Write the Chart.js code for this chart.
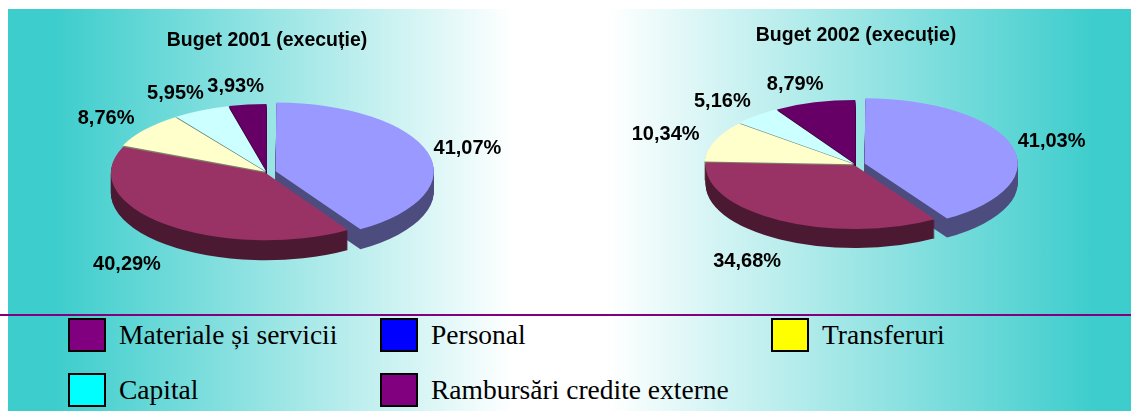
<!DOCTYPE html>
<html>
<head>
<meta charset="utf-8">
<script src="https://cdn.jsdelivr.net/npm/chart.js@4.4.1/dist/chart.umd.min.js"></script>
<style>
  body { margin: 0; width: 1131px; height: 411px; background: #fff; position: relative; overflow: hidden; }
  #bg {
    position: absolute; left: 8px; top: 9px; width: 1123px; height: 402px;
    background: linear-gradient(to right, #3CCDCC 0%, #3CCDCC 4%, #FFFFFF 45%, #FFFFFF 53.5%, #3CCDCC 97%, #3CCDCC 100%);
  }
  .pie { position: absolute; top: 10px; height: 290px; }
  #rule { position: absolute; left: 0; top: 314px; width: 1131px; height: 2px; background: #800080; }
  .box { position: absolute; box-sizing: border-box; width: 38px; height: 34px; border: 2px solid #000; }
  .txt { position: absolute; font: 27.5px "Liberation Serif", "Times New Roman", serif; line-height: 27px; color: #000; white-space: nowrap; }
</style>
</head>
<body>
<div id="bg"></div>
<div class="pie" style="left:9px; width:516px;"><canvas id="pie2001"></canvas></div>
<div class="pie" style="left:600px; width:512px;"><canvas id="pie2002"></canvas></div>
<div id="rule"></div>
<div id="legend"></div>

<script>
// slice order as drawn clockwise from 12 o'clock
const categories = ['Personal', 'Materiale și servicii', 'Transferuri', 'Capital', 'Rambursări credite externe'];
const values2001 = [41.07, 40.29, 8.76, 5.95, 3.93];
const values2002 = [41.03, 34.68, 10.34, 5.16, 8.79];
const titles = ['Buget 2001 (execuție)', 'Buget 2002 (execuție)'];
const sliceColors = ['#9999FF', '#993366', '#FFFFCC', '#CCFFFF', '#660066'];
const sliceOffsets = [36, 8, 8, 8, 8];

// legend (its own order and colours, as in the original slide)
const legendLabels = ['Materiale și servicii', 'Personal', 'Transferuri', 'Capital', 'Rambursări credite externe'];
const legendColors = ['#800080', '#0000FF', '#FFFF00', '#00FFFF', '#800080'];
const legendPos = [[68, 318], [380, 318], [771, 318], [68, 373], [380, 373]];

function fmtPct(v) {
  return v.toFixed(2).replace('.', ',') + '%';
}

function tilt(ctx, cx, cy, dy, k) {
  ctx.translate(cx, cy + dy);
  ctx.scale(1, k);
  ctx.translate(-cx, -cy);
}

// fake 3D pie: darker stacked copies for the side, squashed top, labels outside
const pie3d = {
  id: 'pie3d',
  beforeDatasetsDraw(chart, args, opts) {
    const ctx = chart.ctx;
    const arcs = chart.getDatasetMeta(0).data;
    const cx = arcs[0].x, cy = arcs[0].y;
    for (let d = opts.depth; d >= 1; d--) {
      ctx.save();
      ctx.filter = 'brightness(50%)';
      tilt(ctx, cx, cy, d, opts.tilt);
      arcs.forEach(a => a.draw(ctx));
      ctx.restore();
    }
    ctx.save();
    tilt(ctx, cx, cy, 0, opts.tilt);
  },
  afterDatasetsDraw(chart, args, opts) {
    const ctx = chart.ctx;
    ctx.restore();

    const arcs = chart.getDatasetMeta(0).data;
    const values = chart.data.datasets[0].data;
    ctx.save();
    ctx.font = 'bold 20px "Liberation Sans", Arial, sans-serif';
    ctx.fillStyle = '#000';
    ctx.textAlign = 'left';
    ctx.textBaseline = 'middle';
    arcs.forEach((a, i) => {
      const mid = (a.startAngle + a.endAngle) / 2;
      const c = Math.cos(mid), s = Math.sin(mid);
      const R = a.outerRadius + opts.gap;
      const ax = a.x + R * c;
      const ay = a.y + R * s * opts.tilt + (s > 0 ? opts.depth + 6 : 0);
      const text = fmtPct(values[i]);
      const w = ctx.measureText(text).width;
      const cc = Math.sign(c) * Math.sqrt(Math.abs(c));
      ctx.fillText(text, ax - w * (1 - cc) / 2, ay + 11 * s);
    });
    ctx.restore();
  }
};

function makePie(id, title, values, o) {
  return new Chart(document.getElementById(id), {
    type: 'pie',
    data: {
      labels: categories,
      datasets: [{
        data: values,
        backgroundColor: sliceColors,
        borderWidth: 0,
        offset: sliceOffsets,
        clip: false
      }]
    },
    options: {
      responsive: true,
      maintainAspectRatio: false,
      animation: false,
      events: [],
      radius: o.radius,
      layout: { padding: { bottom: o.padBottom } },
      plugins: {
        legend: { display: false },
        tooltip: { enabled: false },
        title: {
          display: true,
          text: title,
          color: '#000',
          font: { family: '"Liberation Sans", Arial, sans-serif', size: 19.5, weight: 'bold' },
          padding: { top: o.titleTop, bottom: 0 }
        },
        pie3d: { depth: o.depth, tilt: o.tilt, gap: 20 }
      }
    },
    plugins: [pie3d]
  });
}

makePie('pie2001', titles[0], values2001, { radius: 154, tilt: 0.434, depth: 20, titleTop: 18.5, padBottom: 7.2 });
makePie('pie2002', titles[1], values2002, { radius: 149, tilt: 0.426, depth: 19, titleTop: 13.5, padBottom: 17.6 });

// legend
const legend = document.getElementById('legend');
legendLabels.forEach((lab, i) => {
  const [x, y] = legendPos[i];
  const b = document.createElement('div');
  b.className = 'box';
  b.style.left = x + 'px';
  b.style.top = y + 'px';
  b.style.background = legendColors[i];
  legend.appendChild(b);
  const t = document.createElement('div');
  t.className = 'txt';
  t.textContent = lab;
  t.style.left = (x + 51) + 'px';
  t.style.top = (y + 2.5) + 'px';
  legend.appendChild(t);
});
</script>
</body>
</html>
